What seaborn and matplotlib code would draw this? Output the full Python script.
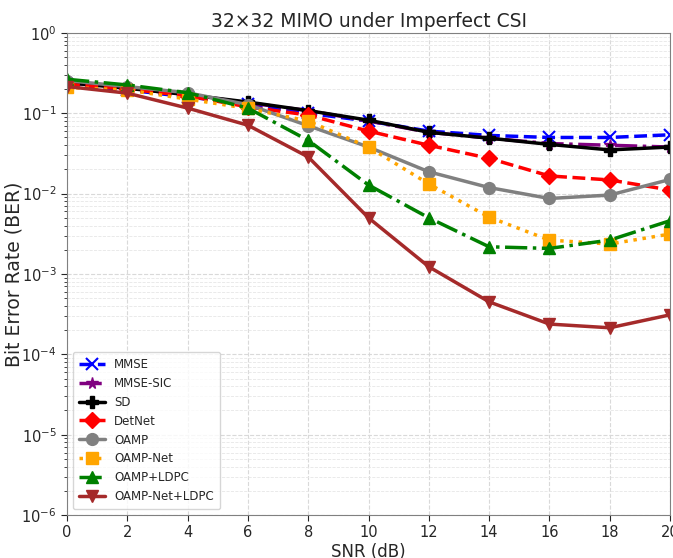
import numpy as np
import pandas as pd
import matplotlib
matplotlib.use("Agg")
import matplotlib.pyplot as plt
import seaborn as sns

snr = [0, 2, 4, 6, 8, 10, 12, 14, 16, 18, 20]

mmse      = [0.230, 0.195, 0.160, 0.130, 0.100, 0.080, 0.060, 0.053, 0.050, 0.050, 0.054]
mmse_sic  = [0.240, 0.205, 0.170, 0.135, 0.108, 0.080, 0.058, 0.049, 0.042, 0.040, 0.038]
sd        = [0.240, 0.205, 0.170, 0.138, 0.108, 0.082, 0.058, 0.049, 0.041, 0.035, 0.038]
detnet    = [0.230, 0.200, 0.165, 0.120, 0.095, 0.060, 0.040, 0.0275, 0.0166, 0.0148, 0.0111]
oamp      = [0.255, 0.215, 0.180, 0.128, 0.070, 0.038, 0.0187, 0.0119, 0.0087, 0.0096, 0.0150]
oamp_net  = [0.210, 0.195, 0.150, 0.115, 0.080, 0.038, 0.0132, 0.0051, 0.00264, 0.00236, 0.00314]
oamp_ldpc = [0.265, 0.225, 0.180, 0.116, 0.046, 0.0128, 0.0050, 0.00218, 0.00208, 0.00264, 0.0046]
oampnet_ldpc = [0.215, 0.178, 0.116, 0.071, 0.0286, 0.0050, 0.00123, 0.00045, 0.000238, 0.000214, 0.00031]

labels = ["MMSE", "MMSE-SIC", "SD", "DetNet", "OAMP", "OAMP-Net", "OAMP+LDPC", "OAMP-Net+LDPC"]
series = [mmse, mmse_sic, sd, detnet, oamp, oamp_net, oamp_ldpc, oampnet_ldpc]
colors = ["blue", "purple", "black", "red", "gray", "orange", "green", "brown"]
lstyles = ["--", "-.", "-", "--", "-", ":", "-.", "-"]
markers = ["x", "*", "P", "D", "o", "s", "^", "v"]

sns.set_style("white")
fig = plt.figure(figsize=(6.73, 5.58), dpi=100)
ax = fig.add_axes([0.0996, 0.077, 0.8959, 0.864])

for lab, vals, c, ls, m in zip(labels, series, colors, lstyles, markers):
    df = pd.DataFrame({"SNR": snr, "BER": vals})
    sns.lineplot(data=df, x="SNR", y="BER", ax=ax, color=c, linestyle=ls,
                 marker=m, markersize=8.5, linewidth=2.5, label=lab,
                 markeredgecolor=c, markeredgewidth=1.5 if m == "x" else 1)

ax.set_yscale("log")
ax.set_ylim(1e-6, 1)
ax.set_xlim(0, 20)
ax.set_xticks(range(0, 21, 2))
ax.grid(True, which="major", linestyle="--", color="#d9d9d9", linewidth=0.8)
ax.grid(True, which="minor", linestyle="--", color="#e6e6e6", linewidth=0.6)
ax.tick_params(axis="both", which="major", labelsize=10.5, length=4, left=True, bottom=True)
ax.tick_params(axis="y", which="minor", length=2, left=True)
for s in ax.spines.values():
    s.set_color("#808080")
ax.set_xlabel("SNR (dB)", fontsize=12, labelpad=2)
ax.set_ylabel("Bit Error Rate (BER)", fontsize=13.5)
ax.yaxis.set_label_coords(-0.073, 0.5)
ax.set_title("32×32 MIMO under Imperfect CSI", fontsize=13.5, pad=4)
ax.legend(loc="lower left", fontsize=8.5, frameon=True, handlelength=2.2,
          borderpad=0.5, labelspacing=0.5)

fig.savefig("out.png", dpi=100)
